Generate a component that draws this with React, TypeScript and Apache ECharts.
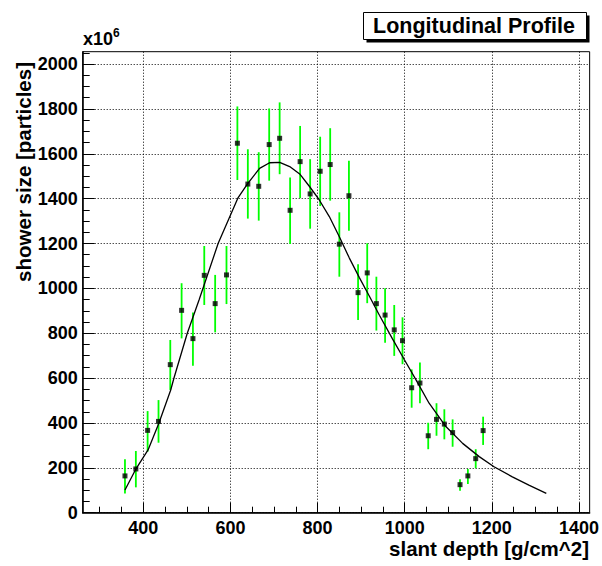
import React, { useEffect, useRef } from "react";
import * as echarts from "echarts";

// Measured points (slant depth, shower size in 1e6 particles) with error bar ends
const depth = [358, 383, 410, 435, 462, 488, 514, 540, 565, 591, 616, 640, 665, 689, 713, 737, 760, 783, 806, 829, 850, 872, 893, 914, 935, 955, 976, 995, 1016, 1035, 1054, 1073, 1091, 1110, 1127, 1145, 1163, 1180];
const size = [164, 195, 367, 407, 660, 902, 776, 1058, 932, 1060, 1647, 1465, 1455, 1641, 1669, 1348, 1565, 1421, 1522, 1552, 1197, 1413, 981, 1069, 932, 881, 815, 767, 557, 578, 343, 416, 395, 357, 125, 164, 241, 366];
const errLow = [86, 113, 272, 312, 547, 777, 655, 926, 804, 930, 1483, 1311, 1302, 1480, 1509, 1198, 1402, 1266, 1367, 1391, 1052, 1257, 859, 934, 812, 758, 699, 662, 468, 488, 283, 343, 327, 294, 98, 128, 198, 302];
const errHigh = [238, 275, 453, 502, 770, 1023, 892, 1189, 1060, 1189, 1811, 1620, 1607, 1802, 1829, 1494, 1724, 1576, 1676, 1714, 1339, 1569, 1107, 1201, 1052, 1000, 926, 871, 639, 669, 401, 488, 461, 416, 149, 195, 283, 428];

// Fit curve
const fitX = [358, 384, 411, 436, 463, 470, 501, 528, 572, 617, 640, 667, 690, 713, 736, 759, 782, 804, 827, 850, 873, 896, 919, 942, 972, 999, 1026, 1056, 1095, 1133, 1171, 1205, 1247, 1285, 1325];
const fitY = [101, 198, 280, 400, 547, 597, 800, 948, 1201, 1402, 1468, 1535, 1560, 1562, 1543, 1510, 1453, 1394, 1320, 1230, 1135, 1048, 965, 880, 775, 683, 592, 488, 383, 309, 250, 205, 160, 123, 86];

// Axis ticks
const xMajor = [400, 600, 800, 1000, 1200, 1400];
const xMinor = [300, 350, 450, 500, 550, 650, 700, 750, 850, 900, 950, 1050, 1100, 1150, 1250, 1300, 1350];
const yMajor = [0, 200, 400, 600, 800, 1000, 1200, 1400, 1600, 1800, 2000];
const yMinor = [50, 100, 150, 250, 300, 350, 450, 500, 550, 650, 700, 750, 850, 900, 950, 1050, 1100, 1150, 1250, 1300, 1350, 1450, 1500, 1550, 1650, 1700, 1750, 1850, 1900, 1950, 2050];

const FONT = "'Liberation Sans', Arial, Helvetica, sans-serif";
const X_MIN = 261;
const X_MAX = 1424.5;
const Y_MIN = 0;
const Y_MAX = 2055;

export default function App() {
  const ref = useRef<HTMLDivElement>(null);
  useEffect(() => {
    if (!ref.current) return;
    const chart = echarts.init(ref.current, null, { renderer: "svg" });
    const labelStyle = { fontFamily: FONT, fontWeight: "bold" as const, fontSize: 18, color: "#000" };
    const fmt = (v: number) => String(v);
    const option: any = {
      animation: false,
      backgroundColor: "#fff",
      grid: {
        left: 82.7,
        right: 11.3,
        top: 51.7,
        bottom: 53.3,
        show: true,
        borderColor: "#000",
        borderWidth: 1,
        backgroundColor: "transparent",
      },
      xAxis: [
        {
          type: "value",
          min: X_MIN,
          max: X_MAX,
          position: "bottom",
          axisLine: { show: true, onZero: false, lineStyle: { color: "#000", width: 1.5 } },
          axisTick: { show: true, inside: true, length: 10, customValues: xMajor, lineStyle: { color: "#000", width: 1 } },
          axisLabel: { show: true, customValues: xMajor, formatter: fmt, margin: 6, ...labelStyle },
          splitLine: { show: true, lineStyle: { color: "#000", width: 1, type: [1, 2] } },
        },
        {
          type: "value",
          min: X_MIN,
          max: X_MAX,
          position: "bottom",
          axisLine: { show: false, onZero: false },
          axisTick: { show: true, inside: true, length: 6, customValues: xMinor, lineStyle: { color: "#000", width: 1 } },
          axisLabel: { show: false },
          splitLine: { show: false },
        },
      ],
      yAxis: [
        {
          type: "value",
          min: Y_MIN,
          max: Y_MAX,
          interval: 200,
          position: "left",
          axisLine: { show: true, onZero: false, lineStyle: { color: "#000", width: 1.5 } },
          axisTick: { show: true, inside: true, length: 12, customValues: yMajor, lineStyle: { color: "#000", width: 1 } },
          axisLabel: { show: true, customValues: yMajor, formatter: fmt, margin: 5, ...labelStyle },
          splitLine: { show: true, lineStyle: { color: "#000", width: 1, type: [1, 2] } },
        },
        {
          type: "value",
          min: Y_MIN,
          max: Y_MAX,
          interval: 200,
          position: "left",
          axisLine: { show: false, onZero: false },
          axisTick: { show: true, inside: true, length: 7, customValues: yMinor, lineStyle: { color: "#000", width: 1 } },
          axisLabel: { show: false },
          splitLine: { show: false },
        },
      ],
      series: [
        {
          type: "custom",
          xAxisIndex: 0,
          yAxisIndex: 0,
          data: depth.map((x, i) => [x, errLow[i], errHigh[i]]),
          encode: { x: 0, y: [1, 2] },
          renderItem: (params: any, api: any) => {
            const x = api.value(0);
            const p1 = api.coord([x, api.value(1)]);
            const p2 = api.coord([x, api.value(2)]);
            return {
              type: "line",
              shape: { x1: p1[0], y1: p1[1], x2: p2[0], y2: p2[1] },
              style: { stroke: "#00ff00", lineWidth: 1.8 },
            };
          },
          z: 2,
        },
        {
          type: "line",
          xAxisIndex: 0,
          yAxisIndex: 0,
          data: fitX.map((x, i) => [x, fitY[i]]),
          showSymbol: false,
          symbol: "none",
          lineStyle: { color: "#000", width: 1.3 },
          z: 3,
        },
        {
          type: "scatter",
          xAxisIndex: 0,
          yAxisIndex: 0,
          data: depth.map((x, i) => [x, size[i]]),
          symbol: "rect",
          symbolSize: 5,
          itemStyle: { color: "#000" },
          z: 4,
        },
      ],
      graphic: [
        { type: "rect", shape: { x: 366.5, y: 15.5, width: 223, height: 27 }, style: { fill: "#000" }, z: 10 },
        { type: "rect", shape: { x: 363.5, y: 12.5, width: 223, height: 27 }, style: { fill: "#fff", stroke: "#000", lineWidth: 1 }, z: 11 },
        {
          type: "text",
          x: 474,
          y: 26,
          style: { text: "Longitudinal Profile", font: `bold 21.5px ${FONT}`, fill: "#000", align: "center", verticalAlign: "middle" },
          z: 12,
        },
        {
          type: "text",
          x: 83,
          y: 38.5,
          style: { text: "x10", font: `bold 18px ${FONT}`, fill: "#000", align: "left", verticalAlign: "middle" },
          z: 12,
        },
        {
          type: "text",
          x: 113,
          y: 33,
          style: { text: "6", font: `bold 12px ${FONT}`, fill: "#000", align: "left", verticalAlign: "middle" },
          z: 12,
        },
        {
          type: "text",
          x: 589,
          y: 548,
          style: { text: "slant depth [g/cm^2]", font: `bold 20.5px ${FONT}`, fill: "#000", align: "right", verticalAlign: "middle" },
          z: 12,
        },
        {
          type: "text",
          x: 23,
          y: 62,
          rotation: Math.PI / 2,
          style: { text: "shower size [particles]", font: `bold 20.5px ${FONT}`, fill: "#000", align: "right", verticalAlign: "middle" },
          z: 12,
        },
      ],
    };
    chart.setOption(option);
    return () => chart.dispose();
  }, []);
  return (
    <div
      ref={ref}
      style={{ position: "fixed", left: 0, top: 0, width: 602, height: 566, background: "#fff" }}
    />
  );
}
